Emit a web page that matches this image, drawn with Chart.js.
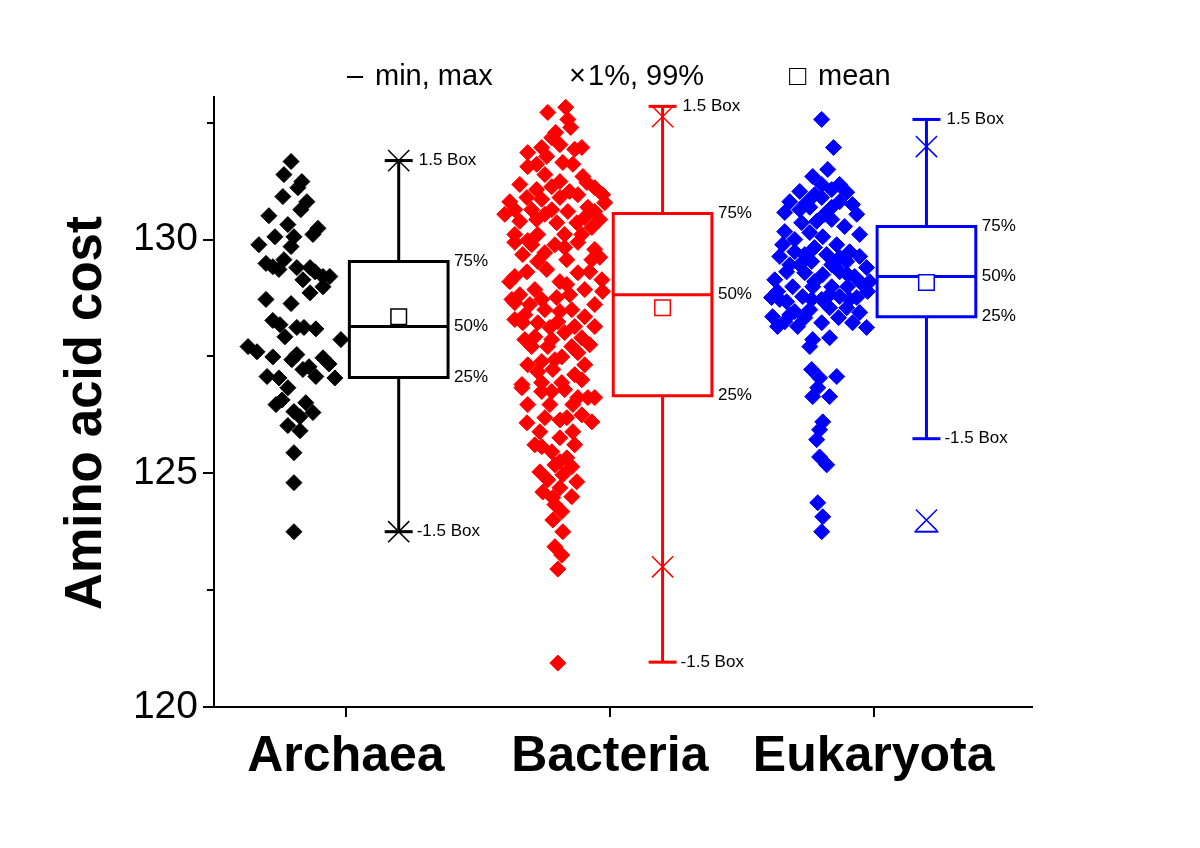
<!DOCTYPE html>
<html>
<head>
<meta charset="utf-8">
<title>Amino acid cost</title>
<script src="https://cdn.jsdelivr.net/npm/chart.js@4.4.1/dist/chart.umd.min.js"></script>
<style>
  html, body { margin: 0; padding: 0; background: #fff; }
  #wrap { width: 1200px; height: 848px; position: relative; }
</style>
</head>
<body>
<div id="wrap"><canvas id="chart"></canvas></div>
<script>
"use strict";

// ---------- Data ----------
const categories = ["Archaea", "Bacteria", "Eukaryota"];
const colors = ["#000000", "#ff0000", "#0000ff"];

// box statistics, one entry per group
const whiskerHigh = [131.69, 132.85, 132.57];
const q3 = [129.53, 130.56, 130.28];
const median = [128.14, 128.82, 129.21];
const q1 = [127.05, 126.66, 128.35];
const whiskerLow = [123.75, 120.96, 125.74];
const means = [128.35, 128.54, 129.08];
const p99 = [131.69, 132.63, 131.99];
const p1 = [123.75, 123.0, 124.0];
const maxVals = [131.69, 132.85, 132.57];
const minVals = [123.75, 120.96, 123.75];

// individual genomes: [x (jittered), amino acid cost]
const archaeaPoints = [
  [0.792,131.67],[0.765,131.39],[0.833,131.24],[0.818,131.11],[0.761,130.92],[0.852,130.81],[0.829,130.64],
  [0.708,130.51],[0.780,130.32],[0.894,130.24],[0.875,130.11],[0.731,130.06],[0.803,130.06],[0.670,129.89],
  [0.792,129.85],[0.765,129.57],[0.697,129.49],[0.723,129.42],[0.746,129.36],[0.814,129.40],[0.864,129.40],
  [0.883,129.31],[0.837,129.14],[0.913,129.21],[0.939,129.21],[0.913,128.99],[0.864,128.86],[0.697,128.72],
  [0.792,128.63],[0.723,128.27],[0.750,128.18],[0.769,127.92],[0.814,128.12],[0.841,128.12],[0.886,128.09],
  [0.981,127.86],[0.629,127.71],[0.663,127.60],[0.723,127.49],[0.795,127.43],[0.814,127.54],[0.860,127.28],
  [0.837,127.22],[0.913,127.47],[0.936,127.34],[0.701,127.07],[0.746,127.04],[0.886,127.07],[0.958,127.04],
  [0.780,126.83],[0.735,126.47],[0.758,126.57],[0.848,126.51],[0.803,126.32],[0.875,126.30],[0.826,126.21],
  [0.780,126.02],[0.826,125.91],[0.803,125.44],[0.803,124.80],[0.803,123.75]
];

const bacteriaPoints = [
  [1.765,132.72],[1.833,132.83],[1.841,132.57],[1.852,132.40],[1.894,131.97],[1.780,132.18],[1.811,132.03],
  [1.742,131.97],[1.689,131.86],[1.761,131.78],[1.689,131.56],[1.822,131.65],[1.860,131.61],[1.754,131.39],
  [1.898,131.35],[1.913,131.22],[1.811,131.24],[1.723,131.07],[1.780,131.13],[1.848,131.03],[1.973,130.96],
  [1.621,130.81],[1.686,130.90],[1.742,130.86],[1.811,130.90],[1.879,130.96],[1.981,130.79],[1.640,130.64],
  [1.704,130.64],[1.780,130.64],[1.841,130.60],[1.917,130.69],[1.943,130.60],[1.659,130.39],[1.723,130.43],
  [1.799,130.36],[1.875,130.36],[1.932,130.26],[1.640,130.11],[1.727,130.11],[1.829,130.11],[1.894,130.11],
  [1.640,129.94],[1.704,129.89],[1.792,129.89],[1.879,129.94],[1.943,129.79],[1.670,129.68],[1.754,129.72],
  [1.837,129.57],[1.932,129.57],[1.640,129.21],[1.686,129.31],[1.761,129.36],[1.879,129.29],[1.970,129.14],
  [1.659,128.82],[1.716,128.93],[1.837,129.04],[1.905,128.93],[1.640,128.65],[1.742,128.72],[1.799,128.76],
  [1.943,128.61],[1.678,128.39],[1.754,128.50],[1.856,128.50],[1.905,128.35],[1.943,128.14],[1.670,128.22],
  [1.727,128.22],[1.803,128.24],[1.867,128.14],[1.716,127.92],[1.780,127.86],[1.829,128.01],[1.894,127.90],
  [1.704,127.71],[1.765,127.71],[1.856,127.71],[1.818,127.49],[1.742,127.39],[1.879,127.58],[1.727,127.17],
  [1.784,127.22],[1.867,127.11],[1.667,126.90],[1.742,126.94],[1.818,126.94],[1.894,127.00],[1.667,126.83],
  [1.742,126.75],[1.829,126.79],[1.917,126.62],[1.689,126.47],[1.773,126.47],[1.860,126.47],[1.943,126.62],
  [1.686,126.08],[1.754,126.19],[1.837,126.19],[1.894,126.25],[1.932,126.10],[1.735,125.89],[1.811,125.76],
  [1.860,125.89],[1.742,125.57],[1.867,125.61],[1.780,125.46],[1.837,125.33],[1.735,125.03],[1.792,125.18],
  [1.856,125.14],[1.765,124.86],[1.875,124.82],[1.746,124.60],[1.811,124.69],[1.856,124.50],[1.792,124.33],
  [1.818,124.18],[1.784,124.00],[1.822,123.75],[1.792,123.43],[1.818,123.25],[1.803,122.95],[1.803,120.94],
  // points half hidden in the dense part of the cloud
  [1.795,132.29],[1.723,131.61],[1.867,131.93],[1.659,131.18],[1.943,131.11],[1.602,130.54],[1.754,130.54],
  [1.905,130.47],[1.962,130.43],[1.689,129.98],[1.829,129.83],[1.962,129.62],[1.727,129.53],[1.621,129.10],
  [1.811,129.10],[1.924,129.31],[1.697,128.61],[1.848,128.82],[1.629,128.72],[1.811,128.46],[1.973,128.89],
  [1.640,128.29],[1.773,128.12],[1.924,127.75],[1.678,127.86],[1.792,127.43],[1.689,127.32],[1.905,127.32],
  [1.780,126.75],[1.879,126.62],[1.811,126.14],[1.716,125.61],[1.811,125.25],[1.822,124.97],[1.784,124.48]
];

const eukaryotaPoints = [
  [2.803,132.57],[2.848,131.97],[2.826,131.50],[2.769,131.35],[2.803,131.18],[2.720,131.03],[2.841,131.07],
  [2.898,131.01],[2.682,130.81],[2.746,130.79],[2.803,130.90],[2.871,130.81],[2.920,130.75],[2.663,130.58],
  [2.758,130.69],[2.841,130.69],[2.936,130.54],[2.727,130.36],[2.784,130.39],[2.841,130.43],[2.890,130.28],
  [2.701,130.00],[2.758,130.15],[2.807,130.06],[2.655,129.89],[2.860,129.89],[2.909,129.74],[2.644,129.64],
  [2.701,129.74],[2.776,129.83],[2.822,129.68],[2.947,129.64],[2.720,129.46],[2.765,129.53],[2.841,129.46],
  [2.898,129.53],[2.973,129.40],[2.625,129.14],[2.670,129.31],[2.739,129.29],[2.807,129.25],[2.871,129.31],
  [2.928,129.21],[2.636,128.89],[2.693,128.99],[2.769,128.99],[2.841,128.99],[2.901,128.99],[2.958,129.04],
  [2.670,128.67],[2.731,128.78],[2.803,128.72],[2.871,128.78],[2.936,128.76],[2.977,128.89],[2.617,128.35],
  [2.701,128.46],[2.758,128.50],[2.833,128.54],[2.898,128.54],[2.947,128.44],[2.636,128.14],[2.712,128.14],
  [2.663,128.24],[2.803,128.22],[2.769,127.86],[2.833,127.90],[2.758,127.71],[2.920,128.22],[2.973,128.12],
  [2.765,127.22],[2.795,127.04],[2.860,127.07],[2.788,126.83],[2.769,126.64],[2.833,126.64],[2.807,126.10],
  [2.795,125.93],[2.784,125.72],[2.795,125.35],[2.822,125.18],[2.788,124.37],[2.807,124.07],[2.803,123.75],
  // points half hidden in the dense part of the cloud
  [2.663,130.17],[2.720,130.64],[2.871,131.18],[2.776,130.96],[2.814,130.54],[2.947,130.11],[2.739,129.68],
  [2.871,129.62],[2.682,129.46],[2.985,129.10],[2.776,129.10],[2.901,129.25],[2.644,128.72],[2.765,128.72],
  [2.833,128.82],[2.613,128.76],[2.909,128.72],[2.682,128.39],[2.867,128.33],[2.739,128.33]
];

const groupPoints = [archaeaPoints, bacteriaPoints, eukaryotaPoints];

const yMajorTicks = [120, 125, 130];
const yMinorTicks = [122.5, 127.5, 132.5];
const xTickValues = [1, 2, 3];

// ---------- Layout constants ----------
const FONT = "'Liberation Sans', Arial, Helvetica, sans-serif";
const BOX_OFFSET = 0.2;   // box sits right of the tick, points left of it
const BOX_HALF = 0.187;
const CAP_PX = 14;

// ---------- Datasets ----------
function xy(x, y) { return { x, y }; }

const datasets = [];
categories.forEach((name, i) => {
  const c = colors[i];
  const bx = i + 1 + BOX_OFFSET;

  datasets.push({ label: name + " mean", data: [xy(bx, means[i])], pointStyle: "rect", pointRadius: 11,
    pointBackgroundColor: "#fff", pointBorderColor: c, pointBorderWidth: 1.5, order: 0 });

  datasets.push({ label: name + " 1%/99%", data: [xy(bx, p1[i]), xy(bx, p99[i])], pointStyle: "crossRot",
    pointRadius: 15, pointBorderColor: c, pointBorderWidth: 1.5, order: 1 });

  datasets.push({ label: name + " min/max", data: [xy(bx, minVals[i]), xy(bx, maxVals[i])], pointStyle: "line",
    pointRadius: 12, pointBorderColor: c, pointBorderWidth: 2, order: 1 });

  datasets.push({ label: name + " caps", data: [xy(bx, whiskerLow[i]), xy(bx, whiskerHigh[i])], pointStyle: "line",
    pointRadius: CAP_PX, pointBorderColor: c, pointBorderWidth: 3, order: 2 });

  datasets.push({ label: name + " box", showLine: true, pointRadius: 0, borderColor: c, borderWidth: 3,
    borderJoinStyle: "miter", borderCapStyle: "square", order: 3,
    data: [xy(bx - BOX_HALF, q1[i]), xy(bx + BOX_HALF, q1[i]), xy(bx + BOX_HALF, q3[i]),
           xy(bx - BOX_HALF, q3[i]), xy(bx - BOX_HALF, q1[i])] });

  datasets.push({ label: name + " median", showLine: true, pointRadius: 0, borderColor: c, borderWidth: 3, order: 3,
    data: [xy(bx - BOX_HALF, median[i]), xy(bx + BOX_HALF, median[i])] });

  datasets.push({ label: name + " whiskers", showLine: true, spanGaps: false, pointRadius: 0, borderColor: c,
    borderWidth: 3, order: 4,
    data: [xy(bx, whiskerHigh[i]), xy(bx, q3[i]), xy(bx, null), xy(bx, q1[i]), xy(bx, whiskerLow[i])] });

  datasets.push({ label: name, data: groupPoints[i].map((p) => xy(p[0], p[1])), pointStyle: "rectRot",
    pointRadius: 8, pointBackgroundColor: c, pointBorderColor: c, pointBorderWidth: 1, order: 5 });
});

// ---------- Annotations (ticks, labels, legend, title) ----------
const annotate = {
  id: "annotate",
  afterDraw(chart) {
    const { ctx, chartArea } = chart;
    const x = chart.scales.x;
    const y = chart.scales.y;
    ctx.save();

    // y tick marks (major longer than minor)
    ctx.strokeStyle = "#000";
    ctx.lineWidth = 2;
    const tick = (v, len) => {
      const py = Math.round(y.getPixelForValue(v));
      ctx.beginPath();
      ctx.moveTo(chartArea.left - len, py);
      ctx.lineTo(chartArea.left, py);
      ctx.stroke();
    };
    yMajorTicks.forEach((v) => tick(v, 11));
    yMinorTicks.forEach((v) => tick(v, 7));

    // box labels
    ctx.fillStyle = "#000";
    ctx.font = "17px " + FONT;
    ctx.textAlign = "left";
    ctx.textBaseline = "middle";
    categories.forEach((_, i) => {
      const bx = i + 1 + BOX_OFFSET;
      const capX = x.getPixelForValue(bx) + CAP_PX + 6;
      const boxX = x.getPixelForValue(bx + BOX_HALF) + 6;
      ctx.fillText("1.5 Box", capX, y.getPixelForValue(whiskerHigh[i]));
      ctx.fillText("-1.5 Box", capX - 2, y.getPixelForValue(whiskerLow[i]));
      ctx.fillText("75%", boxX, y.getPixelForValue(q3[i]));
      ctx.fillText("50%", boxX, y.getPixelForValue(median[i]));
      ctx.fillText("25%", boxX, y.getPixelForValue(q1[i]));
    });

    // legend row
    ctx.font = "29px " + FONT;
    ctx.fillText("\u2013", 347, 77);
    ctx.fillText("min, max", 375, 77);
    ctx.fillText("\u00d7", 569, 77);
    ctx.fillText("1%, 99%", 588, 77);
    ctx.fillText("\u25a1", 789, 77);
    ctx.fillText("mean", 818, 77);

    // y axis title
    ctx.font = "bold 51px " + FONT;
    ctx.textAlign = "center";
    ctx.translate(87, (chartArea.top + chartArea.bottom) / 2 + 11);
    ctx.rotate(-Math.PI / 2);
    ctx.fillText("Amino acid cost", 0, 0);

    ctx.restore();
  },
};

// ---------- Chart ----------
new Chart(document.getElementById("chart"), {
  type: "scatter",
  data: { datasets },
  plugins: [annotate],
  options: {
    responsive: true,
    maintainAspectRatio: false,
    animation: false,
    events: [],
    layout: { padding: { left: 0, right: 168, top: 97, bottom: 0 } },
    plugins: { legend: { display: false }, tooltip: { enabled: false } },
    scales: {
      x: {
        type: "linear",
        min: 0.5,
        max: 3.6,
        afterBuildTicks: (s) => { s.ticks = xTickValues.map((v) => ({ value: v })); },
        afterFit: (s) => { s.height = 141; },
        grid: { drawOnChartArea: false, drawTicks: true, tickLength: 10, color: "#000", lineWidth: 2 },
        border: { display: true, color: "#000", width: 2 },
        ticks: {
          callback: (v, i) => categories[i],
          color: "#000",
          padding: 10,
          maxRotation: 0,
          font: { family: FONT, size: 50, weight: "bold" },
        },
      },
      y: {
        type: "linear",
        min: 120,
        max: 133.05,
        afterBuildTicks: (s) => { s.ticks = yMajorTicks.map((v) => ({ value: v })); },
        afterFit: (s) => { s.width = 214; },
        grid: { display: false, drawTicks: false },
        border: { display: true, color: "#000", width: 2 },
        ticks: {
          color: "#000",
          padding: 16,
          font: { family: FONT, size: 39 },
        },
      },
    },
  },
});
</script>
</body>
</html>
